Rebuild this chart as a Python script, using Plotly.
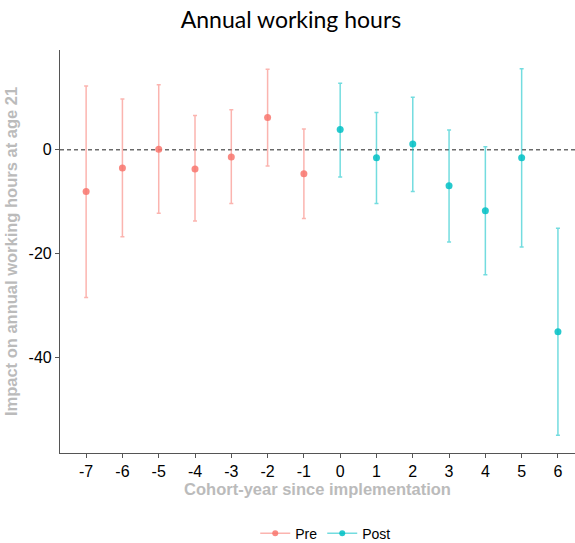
import plotly.graph_objects as go

# Data
pre_x = [-7, -6, -5, -4, -3, -2, -1]
pre_est = [-8.0, -3.5, 0.1, -3.7, -1.4, 6.2, -4.6]
pre_hi = [12.3, 9.8, 12.5, 6.6, 7.7, 15.5, 4.0]
pre_lo = [-28.4, -16.7, -12.2, -13.7, -10.3, -3.1, -13.2]

post_x = [0, 1, 2, 3, 4, 5, 6]
post_est = [3.9, -1.5, 1.1, -6.9, -11.7, -1.5, -35.0]
post_hi = [12.8, 7.2, 10.1, 3.8, 0.6, 15.6, -15.1]
post_lo = [-5.2, -10.3, -8.0, -17.7, -24.0, -18.7, -54.9]

x_ticks = list(range(-7, 7))

PRE_COL = "#F8766D"
POST_COL = "#00BFC4"

fig = go.Figure()

def add_series(xs, est, hi, lo, col, rgba, name):
    fig.add_trace(go.Scatter(
        x=xs, y=est, mode="markers", name=name, showlegend=False,
        marker=dict(color=col, size=7, opacity=0.85),
        error_y=dict(type="data", symmetric=False,
                     array=[h - e for h, e in zip(hi, est)],
                     arrayminus=[e - l for e, l in zip(est, lo)],
                     color=rgba, thickness=1.5, width=2),
    ))
    fig.add_trace(go.Scatter(
        x=[None], y=[None], mode="lines+markers", name=name,
        marker=dict(color=col, size=6, opacity=0.85),
        line=dict(color=rgba, width=1.5),
    ))

add_series(pre_x, pre_est, pre_hi, pre_lo, PRE_COL, "rgba(248,118,109,0.55)", "Pre")
add_series(post_x, post_est, post_hi, post_lo, POST_COL, "rgba(0,191,196,0.55)", "Post")

fig.add_shape(type="line", xref="paper", yref="y", x0=0, x1=1, y0=0, y1=0,
              line=dict(color="#222222", width=1, dash="4px,3px"), layer="below")

fig.update_layout(
    width=575, height=543,
    paper_bgcolor="white", plot_bgcolor="white",
    margin=dict(l=60, r=0, t=50, b=90, autoexpand=False),
    title=dict(text="Annual working hours", x=0.506, xanchor="center", y=0.963, yanchor="middle",
               font=dict(family="Lato, Open Sans, sans-serif", size=23, color="black")),
    font=dict(family="Liberation Sans, Arial, sans-serif"),
    xaxis=dict(range=[-7.72, 6.47], tickmode="array", tickvals=x_ticks,
               ticktext=[str(v) for v in x_ticks], automargin=False,
               showgrid=False, zeroline=False, showline=True, linecolor="#555555", linewidth=1.2,
               ticks="outside", ticklen=4, tickcolor="#555555",
               tickfont=dict(size=16, color="black"),
               title=dict(text="<b>Cohort-year since implementation</b>", standoff=4,
                          font=dict(size=16.5, color="#BBBBBB"))),
    yaxis=dict(range=[-58.3, 19.2], tickvals=[-40, -20, 0], ticktext=["-40", "-20", "0"],
               automargin=False,
               showgrid=False, zeroline=False, showline=True, linecolor="#555555", linewidth=1.2,
               ticks="outside", ticklen=4, tickcolor="#555555",
               tickfont=dict(size=16, color="black"),
               title=dict(text="<b>Impact on annual working hours at age 21</b>", standoff=6,
                          font=dict(size=16.5, color="#BBBBBB"))),
    legend=dict(orientation="h", x=0.516, xanchor="center", y=-0.2, yanchor="middle",
                font=dict(size=14, color="black"), itemwidth=30),
)

fig.write_html("out.html", config={"displayModeBar": False},
               post_script="document.body.style.margin='0';document.body.style.overflow='hidden';")
